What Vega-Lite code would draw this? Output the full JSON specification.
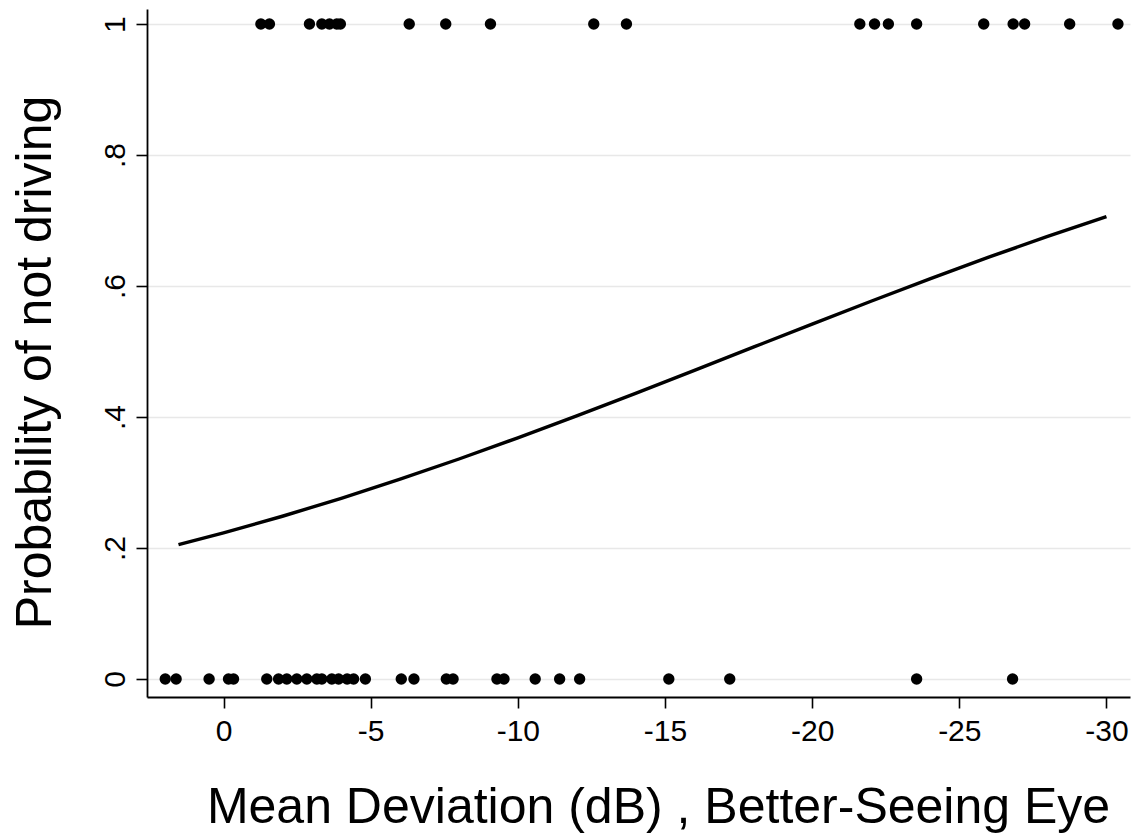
{
  "$schema": "https://vega.github.io/schema/vega-lite/v6.json",
  "width": 983,
  "height": 688,
  "autosize": {"type": "none"},
  "padding": {"left": 147, "top": 9, "right": 10, "bottom": 140},
  "background": "white",
  "config": {
    "view": {"stroke": null},
    "font": "Liberation Sans",
    "axis": {
      "labelFont": "Liberation Sans",
      "titleFont": "Liberation Sans",
      "labelColor": "black",
      "titleColor": "black",
      "domainColor": "black",
      "domainWidth": 1.8,
      "tickColor": "black",
      "tickWidth": 1.6,
      "tickSize": 11,
      "labelFontSize": 30,
      "titleFontSize": 50,
      "titleFontWeight": "normal"
    }
  },
  "datasets": {
    "obs": [
      {"md": -1.27, "notdrive": 1}, {"md": -1.56, "notdrive": 1}, {"md": -2.92, "notdrive": 1},
      {"md": -3.34, "notdrive": 1}, {"md": -3.6, "notdrive": 1}, {"md": -3.85, "notdrive": 1},
      {"md": -3.97, "notdrive": 1}, {"md": -6.31, "notdrive": 1}, {"md": -7.55, "notdrive": 1},
      {"md": -9.07, "notdrive": 1}, {"md": -12.58, "notdrive": 1}, {"md": -13.69, "notdrive": 1},
      {"md": -21.62, "notdrive": 1}, {"md": -22.12, "notdrive": 1}, {"md": -22.59, "notdrive": 1},
      {"md": -23.55, "notdrive": 1}, {"md": -25.83, "notdrive": 1}, {"md": -26.83, "notdrive": 1},
      {"md": -27.22, "notdrive": 1}, {"md": -28.75, "notdrive": 1}, {"md": -30.39, "notdrive": 1},
      {"md": 1.98, "notdrive": 0}, {"md": 1.61, "notdrive": 0}, {"md": 0.49, "notdrive": 0},
      {"md": -0.17, "notdrive": 0}, {"md": -0.34, "notdrive": 0}, {"md": -1.47, "notdrive": 0},
      {"md": -1.87, "notdrive": 0}, {"md": -2.15, "notdrive": 0}, {"md": -2.49, "notdrive": 0},
      {"md": -2.83, "notdrive": 0}, {"md": -3.17, "notdrive": 0}, {"md": -3.34, "notdrive": 0},
      {"md": -3.68, "notdrive": 0}, {"md": -3.91, "notdrive": 0}, {"md": -4.2, "notdrive": 0},
      {"md": -4.42, "notdrive": 0}, {"md": -4.82, "notdrive": 0}, {"md": -6.04, "notdrive": 0},
      {"md": -6.47, "notdrive": 0}, {"md": -7.57, "notdrive": 0}, {"md": -7.8, "notdrive": 0},
      {"md": -9.29, "notdrive": 0}, {"md": -9.53, "notdrive": 0}, {"md": -10.59, "notdrive": 0},
      {"md": -11.42, "notdrive": 0}, {"md": -12.1, "notdrive": 0}, {"md": -15.13, "notdrive": 0},
      {"md": -17.2, "notdrive": 0}, {"md": -23.55, "notdrive": 0}, {"md": -26.81, "notdrive": 0}
    ],
    "fit": [
      {"md": 1.53, "prob": 0.205}, {"md": 0, "prob": 0.223}, {"md": -2, "prob": 0.2485},
      {"md": -4, "prob": 0.2759}, {"md": -6, "prob": 0.3051}, {"md": -8, "prob": 0.3359},
      {"md": -10, "prob": 0.3682}, {"md": -12, "prob": 0.4017}, {"md": -14, "prob": 0.4362},
      {"md": -16, "prob": 0.4712}, {"md": -18, "prob": 0.5066}, {"md": -20, "prob": 0.5419},
      {"md": -22, "prob": 0.5768}, {"md": -24, "prob": 0.6109}, {"md": -26, "prob": 0.644},
      {"md": -28, "prob": 0.6758}, {"md": -30, "prob": 0.706}
    ]
  },
  "encoding": {
    "x": {
      "field": "md",
      "type": "quantitative",
      "scale": {"domain": [-30.8, 2.6], "reverse": true, "nice": false, "zero": false},
      "axis": {
        "title": "Mean Deviation (dB) , Better-Seeing Eye",
        "values": [0, -5, -10, -15, -20, -25, -30],
        "labelExpr": "datum.value < 0 ? '-' + format(-datum.value, 'd') : format(datum.value, 'd')",
        "grid": false,
        "labelAlign": "center",
        "labelBaseline": "alphabetic",
        "labelPadding": 32,
        "titleX": 511,
        "titleY": 125,
        "titleAlign": "center",
        "titleBaseline": "alphabetic",
        "titleAnchor": "start"
      }
    }
  },
  "layer": [
    {
      "data": {"name": "fit"},
      "mark": {"type": "line", "color": "black", "strokeWidth": 3.4},
      "encoding": {
        "y": {
          "field": "prob",
          "type": "quantitative",
          "scale": {"domain": [-0.0275, 1.023], "nice": false, "zero": false},
          "axis": {
            "title": "Probability of not driving",
            "values": [0, 0.2, 0.4, 0.6, 0.8, 1],
            "labelExpr": "replace(format(datum.value, '.1~f'), '0.', '.')",
            "grid": true,
            "gridColor": "#e8e8e8",
            "gridWidth": 1.5,
            "labelAngle": -90,
            "labelAlign": "center",
            "labelBaseline": "alphabetic",
            "labelPadding": 12,
            "titleAngle": -90,
            "titleX": -97,
            "titleY": 353,
            "titleAlign": "center",
            "titleBaseline": "alphabetic",
            "titleAnchor": "start"
          }
        }
      }
    },
    {
      "data": {"name": "obs"},
      "mark": {"type": "circle", "color": "black", "opacity": 1, "size": 130},
      "encoding": {
        "y": {"field": "notdrive", "type": "quantitative"}
      }
    }
  ]
}
